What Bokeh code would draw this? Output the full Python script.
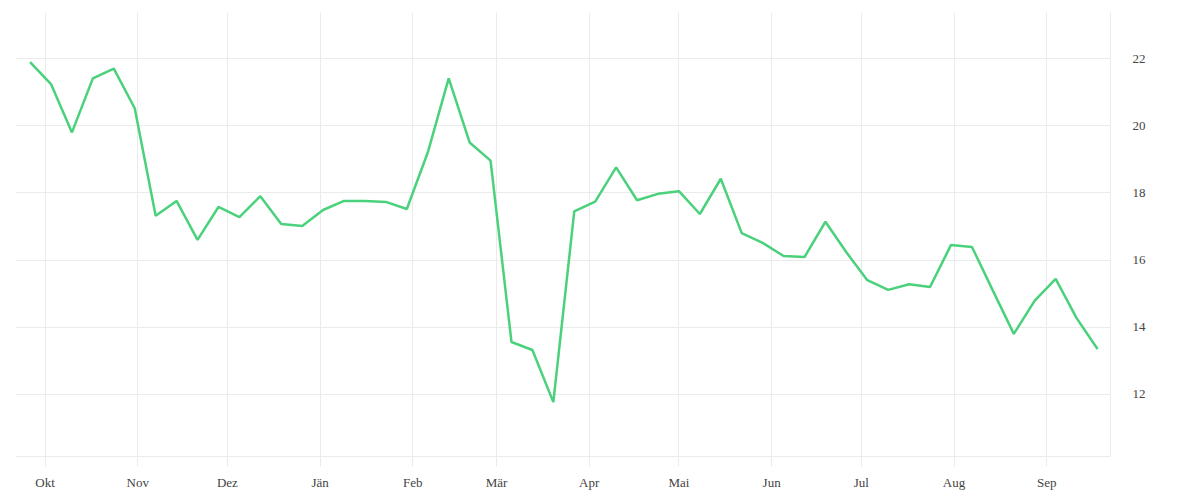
import pandas as pd
from bokeh.plotting import figure
from bokeh.models import Range1d, MonthsTicker, CustomJSTickFormatter, SingleIntervalTicker
from bokeh.embed import file_html
from bokeh.resources import INLINE

# weekly observations
start_date = "2022-09-26"
values = [
    21.89, 21.24, 19.80, 21.41, 21.70, 20.52, 17.32, 17.76, 16.60, 17.58,
    17.28, 17.90, 17.07, 17.01, 17.49, 17.76, 17.76, 17.73, 17.52, 19.20,
    21.41, 19.50, 18.96, 13.56, 13.32, 11.77, 17.45, 17.74, 18.76, 17.78,
    17.97, 18.05, 17.37, 18.42, 16.80, 16.51, 16.12, 16.09, 17.14, 16.23,
    15.40, 15.11, 15.28, 15.20, 16.45, 16.39, 15.09, 13.80, 14.79, 15.44,
    14.27, 13.35,
]
dates = pd.date_range(start_date, periods=len(values), freq="7D")

month_names = ["Jän", "Feb", "Mär", "Apr", "Mai", "Jun",
               "Jul", "Aug", "Sep", "Okt", "Nov", "Dez"]

p = figure(
    width=1192, height=492,
    x_axis_type="datetime",
    x_range=Range1d(start=pd.Timestamp("2022-09-21 03:00"), end=pd.Timestamp("2023-09-22 08:00")),
    y_range=Range1d(10.15, 23.37),
    y_axis_location="right",
    output_backend="svg", toolbar_location=None,
    min_border_left=15, min_border_top=12, min_border_right=82, min_border_bottom=34,
)
p.outline_line_color = None
p.background_fill_color = "white"

grid_col = "#ebebeb"
p.xgrid.grid_line_color = grid_col
p.ygrid.grid_line_color = grid_col

p.xaxis.ticker = MonthsTicker(months=list(range(12)))
p.xaxis.formatter = CustomJSTickFormatter(
    args=dict(names=month_names),
    code="const d = new Date(tick); return names[d.getUTCMonth()];",
)
p.xaxis.axis_line_color = grid_col
p.xaxis.major_tick_line_color = grid_col
p.xaxis.major_tick_out = 10
p.xaxis.major_tick_in = 0
p.xaxis.minor_tick_line_color = None
p.xaxis.major_label_standoff = 8

p.yaxis.ticker = SingleIntervalTicker(interval=2)
p.yaxis.axis_line_color = grid_col
p.yaxis.major_tick_line_color = None
p.yaxis.minor_tick_line_color = None
p.yaxis.major_label_standoff = 16

for ax in (p.xaxis, p.yaxis):
    ax.major_label_text_font = "Liberation Serif"
    ax.major_label_text_font_size = "13px"
    ax.major_label_text_color = "#444444"

p.line(dates, values, line_color="#4ad17b", line_width=2.5)

open("out.html", "w").write(file_html(p, INLINE))
